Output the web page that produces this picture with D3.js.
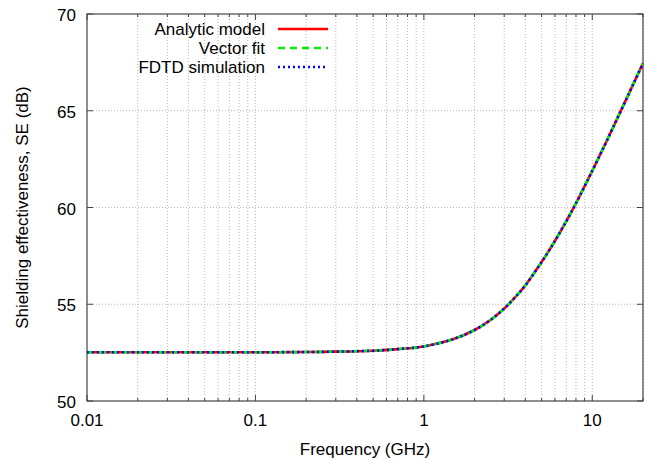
<!DOCTYPE html>
<html>
<head>
<meta charset="utf-8">
<script src="https://cdn.jsdelivr.net/npm/d3@7"></script>
<style>
  body { margin: 0; background: #fff; }
  text { font-family: "Liberation Sans", Arial, sans-serif; fill: #000; }
</style>
</head>
<body>
<div id="chart"></div>
<script>
// frequency (GHz) and shielding effectiveness (dB)
let freq = [0.01, 0.02, 0.05, 0.1, 0.2, 0.3, 0.5, 0.7, 1, 1.5, 2, 2.5, 3, 3.5, 4, 5, 6, 7, 8, 10, 12, 14, 16, 18, 20];
let analytic = [52.52, 52.52, 52.52, 52.52, 52.53, 52.55, 52.6, 52.68, 52.82, 53.2, 53.67, 54.2, 54.78, 55.38, 55.97, 57.18, 58.27, 59.28, 60.22, 61.9, 63.32, 64.56, 65.64, 66.6, 67.45];
let vectorFit = analytic.slice();
let fdtd = analytic.slice();

let seriesNames = ["Analytic model", "Vector fit", "FDTD simulation"];
let xTicks = [0.01, 0.1, 1, 10];
let yTicks = [50, 55, 60, 65, 70];

let width = 659, height = 461;
let margin = {left: 87, right: 16, top: 14, bottom: 60};

let svg = d3.select('#chart').append('svg')
    .attr('width', width)
    .attr('height', height);

let x = d3.scaleLog()
    .domain([0.01, 20])
    .range([margin.left, width - margin.right]);
let y = d3.scaleLinear()
    .domain([50, 70])
    .range([height - margin.bottom, margin.top]);

// minor positions: 1..9 of each decade
let minor = [];
[0.01, 0.1, 1, 10].forEach(function (d) {
    for (let k = 1; k < 10; k++) {
        let v = d * k;
        if (v <= 20) minor.push(v);
    }
});

let grid = svg.append('g');
grid.selectAll('.vgrid')
    .data(minor.filter(function (d) { return d > 0.01; }))
    .enter()
    .append('line')
    .attr('x1', function (d) { return x(d); })
    .attr('x2', function (d) { return x(d); })
    .attr('y1', y(50))
    .attr('y2', y(70))
    .attr('stroke', '#b8b8b8')
    .attr('stroke-width', 1)
    .attr('stroke-dasharray', '1,2');
grid.selectAll('.hgrid')
    .data([55, 60, 65])
    .enter()
    .append('line')
    .attr('x1', x(0.01))
    .attr('x2', x(20))
    .attr('y1', function (d) { return y(d); })
    .attr('y2', function (d) { return y(d); })
    .attr('stroke', '#b8b8b8')
    .attr('stroke-width', 1)
    .attr('stroke-dasharray', '1,2');

// ticks (inward, on all four sides like gnuplot)
let tickColor = '#444';
let tk = svg.append('g').attr('stroke', tickColor).attr('stroke-width', 1);
minor.forEach(function (d) {
    let big = xTicks.indexOf(d) >= 0;
    let len = big ? 6 : 3;
    tk.append('line').attr('x1', x(d)).attr('x2', x(d))
        .attr('y1', y(50)).attr('y2', y(50) - len);
    tk.append('line').attr('x1', x(d)).attr('x2', x(d))
        .attr('y1', y(70)).attr('y2', y(70) + len);
});
yTicks.forEach(function (d) {
    tk.append('line').attr('x1', x(0.01)).attr('x2', x(0.01) + 6)
        .attr('y1', y(d)).attr('y2', y(d));
    tk.append('line').attr('x1', x(20)).attr('x2', x(20) - 6)
        .attr('y1', y(d)).attr('y2', y(d));
});

// frame
svg.append('rect')
    .attr('x', x(0.01))
    .attr('y', y(70))
    .attr('width', x(20) - x(0.01))
    .attr('height', y(50) - y(70))
    .attr('fill', 'none')
    .attr('stroke', tickColor)
    .attr('stroke-width', 1.2);

// tick labels
svg.selectAll('.xlab')
    .data(xTicks)
    .enter()
    .append('text')
    .attr('x', function (d) { return x(d); })
    .attr('y', y(50) + 25)
    .attr('text-anchor', 'middle')
    .style('font-size', '17px')
    .text(function (d) { return d; });
svg.selectAll('.ylab')
    .data(yTicks)
    .enter()
    .append('text')
    .attr('x', x(0.01) - 11)
    .attr('y', function (d) { return y(d) + 7; })
    .attr('text-anchor', 'end')
    .style('font-size', '17px')
    .text(function (d) { return d; });

// axis titles
svg.append('text')
    .attr('x', (x(0.01) + x(20)) / 2)
    .attr('y', height - 6)
    .attr('text-anchor', 'middle')
    .style('font-size', '17px')
    .text('Frequency (GHz)');
svg.append('text')
    .attr('transform', 'translate(28,' + ((y(50) + y(70)) / 2) + ') rotate(-90)')
    .attr('text-anchor', 'middle')
    .style('font-size', '17px')
    .text('Shielding effectiveness, SE (dB)');

// curves
let line = d3.line()
    .x(function (d) { return x(d[0]); })
    .y(function (d) { return y(d[1]); })
    .curve(d3.curveCatmullRom);

let styles = [
    {color: '#ff0000', dash: null},
    {color: '#00ee00', dash: '7,5'},
    {color: '#0000ff', dash: '2,3'}
];
let allSeries = [analytic, vectorFit, fdtd];

let plot = svg.append('g');
allSeries.forEach(function (vals, i) {
    plot.append('path')
        .datum(d3.zip(freq, vals))
        .attr('d', line)
        .attr('fill', 'none')
        .attr('stroke', styles[i].color)
        .attr('stroke-width', 2.6)
        .attr('stroke-dasharray', styles[i].dash);
});

// legend
let leg = svg.append('g');
seriesNames.forEach(function (name, i) {
    let ly = 29 + i * 19;
    leg.append('text')
        .attr('x', 265)
        .attr('y', ly + 6)
        .attr('text-anchor', 'end')
        .style('font-size', '17px')
        .text(name);
    leg.append('line')
        .attr('x1', 278).attr('x2', 328)
        .attr('y1', ly).attr('y2', ly)
        .attr('stroke', styles[i].color)
        .attr('stroke-width', 2.6)
        .attr('stroke-dasharray', styles[i].dash);
});
</script>
</body>
</html>
